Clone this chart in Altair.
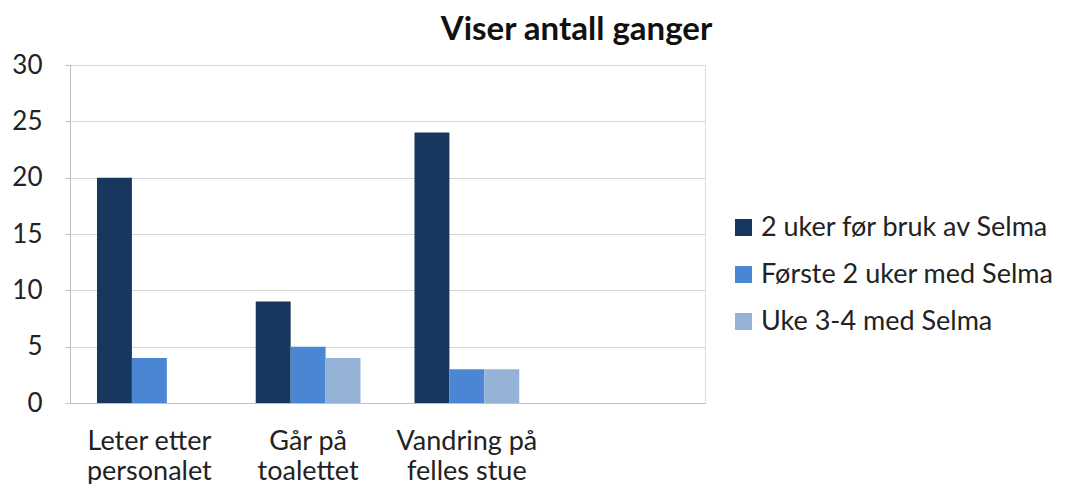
import altair as alt
import pandas as pd

categories = ["Leter etter personalet", "Går på toalettet", "Vandring på felles stue"]
label_lines = [["Leter etter", "personalet"], ["Går på", "toalettet"], ["Vandring på", "felles stue"]]
series = ["2 uker før bruk av Selma", "Første 2 uker med Selma", "Uke 3-4 med Selma"]
values_s1 = [20, 9, 24]
values_s2 = [4, 5, 3]
values_s3 = [None, 4, 3]
colors = ["#17375E", "#4A86D4", "#95B3D7"]

rows = []
for s, vals in zip(series, [values_s1, values_s2, values_s3]):
    for c, v in zip(categories, vals):
        rows.append({"kategori": c, "serie": s, "verdi": v})
df = pd.DataFrame(rows)

x_domain = categories + [" "]
label_map = "{" + ", ".join(
    "'" + c + "': ['" + "', '".join(l) + "']" for c, l in zip(categories, label_lines)
) + "}"
label_expr = "(" + label_map + ")[datum.value] || ''"

FONT = "Lato"

chart = alt.Chart(df).mark_bar(strokeWidth=0).encode(
    x=alt.X("kategori:N", scale=alt.Scale(domain=x_domain, paddingInner=0.34, paddingOuter=0.17),
            sort=x_domain,
            axis=alt.Axis(title=None, labelAngle=0, labelExpr=label_expr, labelFontSize=27,
                          labelColor="#222222", labelPadding=25, labelLineHeight=30,
                          ticks=False, domainColor="#BFBFBF", labelFont=FONT, grid=False)),
    xOffset=alt.XOffset("serie:N", scale=alt.Scale(domain=series)),
    y=alt.Y("verdi:Q", scale=alt.Scale(domain=[0, 30]),
            axis=alt.Axis(title=None, values=[0, 5, 10, 15, 20, 25, 30], labelFontSize=26,
                          labelColor="#222222", labelPadding=23, tickSize=5, tickColor="#BFBFBF",
                          domainColor="#BFBFBF", gridColor="#D4D4D4", labelFont=FONT)),
    color=alt.Color("serie:N", scale=alt.Scale(domain=series, range=colors),
                    legend=alt.Legend(title=None, orient="none", legendX=660, legendY=149,
                                      symbolType="square", symbolSize=289, symbolStrokeWidth=0,
                                      labelFontSize=27, labelFont=FONT, labelColor="#222222",
                                      labelLimit=500, rowPadding=19, labelOffset=4)),
).properties(
    width=635,
    height=338,
    title=alt.TitleParams("Viser antall ganger", fontSize=33, font=FONT, fontWeight="bold",
                          anchor="middle", dx=189, offset=5, color="#111111"),
    autosize=alt.AutoSizeParams(type="none"),
    padding={"left": 62, "top": 57, "right": 352, "bottom": 81},
).configure_view(stroke=None).configure(background="white")

chart.save("out.html", embed_options={"renderer": "svg", "actions": False})
